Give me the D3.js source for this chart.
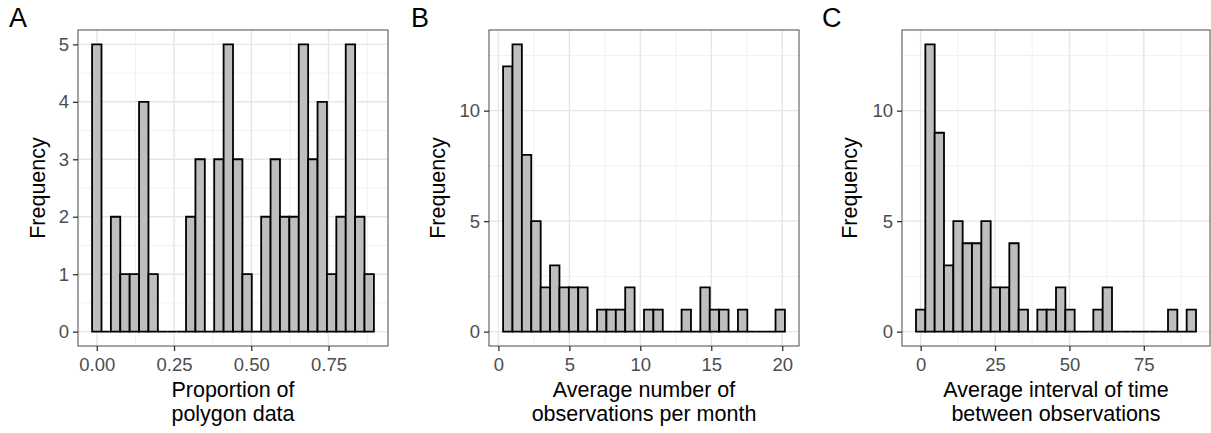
<!DOCTYPE html>
<html>
<head>
<meta charset="utf-8">
<script src="https://cdn.jsdelivr.net/npm/d3@7/dist/d3.min.js"></script>
<style>
  body { margin: 0; background: #fff; }
  svg { font-family: "Liberation Sans", Arial, sans-serif; }
</style>
</head>
<body>
<div id="chart"></div>
<script>
// histogram counts (30 bins per panel)
var countsA = [5, 0, 2, 1, 1, 4, 1, 0, 0, 0, 2, 3, 0, 3, 5, 3, 1, 0, 2, 3, 2, 2, 5, 3, 4, 1, 2, 5, 2, 1];
var countsB = [12, 13, 8, 5, 2, 3, 2, 2, 2, 0, 1, 1, 1, 2, 0, 1, 1, 0, 0, 1, 0, 2, 1, 1, 0, 1, 0, 0, 0, 1];
var countsC = [1, 13, 9, 3, 5, 4, 4, 5, 2, 2, 4, 1, 0, 1, 1, 2, 1, 0, 0, 1, 2, 0, 0, 0, 0, 0, 0, 1, 0, 1];

// bin width and centre of the first bin
var binWidthA = 0.0304, firstCenterA = 0;
var binWidthB = 0.662,  firstCenterB = 0.662;
var binWidthC = 3.137,  firstCenterC = 0;

var xTicksA = [0, 0.25, 0.5, 0.75], xMinorA = [0.125, 0.375, 0.625, 0.875];
var xTicksB = [0, 5, 10, 15, 20],   xMinorB = [2.5, 7.5, 12.5, 17.5];
var xTicksC = [0, 25, 50, 75],      xMinorC = [12.5, 37.5, 62.5, 87.5];
var yTicksA = [0, 1, 2, 3, 4, 5],   yMinorA = [0.5, 1.5, 2.5, 3.5, 4.5];
var yTicksB = [0, 5, 10],           yMinorB = [2.5, 7.5, 12.5];

var titleA = ["Proportion of", "polygon data"];
var titleB = ["Average number of", "observations per month"];
var titleC = ["Average interval of time", "between observations"];

var width = 1211, height = 433;
var plotTop = 30, plotBottom = 346;

var svg = d3.select("#chart").append("svg")
    .attr("width", width)
    .attr("height", height);

function drawPanel(cfg) {
    var n = cfg.counts.length;
    var w = cfg.binWidth;
    var lo = cfg.firstCenter - w / 2;
    var hi = cfg.firstCenter + (n - 0.5) * w;
    var padX = (hi - lo) * 0.05;
    var yMax = d3.max(cfg.counts);

    var x = d3.scaleLinear().domain([lo - padX, hi + padX]).range([cfg.left, cfg.right]);
    var y = d3.scaleLinear().domain([-yMax * 0.05, yMax * 1.05]).range([plotBottom, plotTop]);

    var g = svg.append("g");

    // grid
    g.selectAll(".vminor").data(cfg.xMinor).enter().append("line")
        .attr("x1", function (d) { return x(d); }).attr("x2", function (d) { return x(d); })
        .attr("y1", plotTop).attr("y2", plotBottom)
        .attr("stroke", "#ebebeb").attr("stroke-width", 0.7);
    g.selectAll(".hminor").data(cfg.yMinor).enter().append("line")
        .attr("y1", function (d) { return y(d); }).attr("y2", function (d) { return y(d); })
        .attr("x1", cfg.left).attr("x2", cfg.right)
        .attr("stroke", "#ebebeb").attr("stroke-width", 0.7);
    g.selectAll(".vmajor").data(cfg.xTicks).enter().append("line")
        .attr("x1", function (d) { return x(d); }).attr("x2", function (d) { return x(d); })
        .attr("y1", plotTop).attr("y2", plotBottom)
        .attr("stroke", "#e6e6e6").attr("stroke-width", 1.4);
    g.selectAll(".hmajor").data(cfg.yTicks).enter().append("line")
        .attr("y1", function (d) { return y(d); }).attr("y2", function (d) { return y(d); })
        .attr("x1", cfg.left).attr("x2", cfg.right)
        .attr("stroke", "#e6e6e6").attr("stroke-width", 1.4);

    // bars (paths so empty bins still show as a line on the baseline)
    g.selectAll(".bar").data(cfg.counts).enter().append("path")
        .attr("d", function (d, i) {
            var x0 = x(lo + i * w), x1 = x(lo + (i + 1) * w);
            var y0 = y(0), y1 = y(d);
            return "M" + x0 + "," + y0 + "V" + y1 + "H" + x1 + "V" + y0 + "Z";
        })
        .attr("fill", "#bebebe")
        .attr("stroke", "#000")
        .attr("stroke-width", 1.8)
        .attr("stroke-linejoin", "miter");

    // border
    g.append("rect")
        .attr("x", cfg.left).attr("y", plotTop)
        .attr("width", cfg.right - cfg.left).attr("height", plotBottom - plotTop)
        .attr("fill", "none").attr("stroke", "#5a5a5a").attr("stroke-width", 1.1);

    // axes
    var xAxis = g.append("g").attr("transform", "translate(0," + plotBottom + ")")
        .call(d3.axisBottom(x).tickValues(cfg.xTicks).tickFormat(cfg.xFormat).tickSize(5).tickPadding(7));
    var yAxis = g.append("g").attr("transform", "translate(" + cfg.left + ",0)")
        .call(d3.axisLeft(y).tickValues(cfg.yTicks).tickFormat(d3.format("d")).tickSize(5).tickPadding(4));
    [xAxis, yAxis].forEach(function (a) {
        a.select(".domain").remove();
        a.selectAll(".tick line").attr("stroke", "#333").attr("stroke-width", 1.3);
        a.selectAll(".tick text").attr("fill", "#4d4d4d").style("font-size", "18.5px")
            .style("font-family", "'Liberation Sans', Arial, sans-serif");
    });

    // x title
    var cx = (cfg.left + cfg.right) / 2;
    g.selectAll(".xtitle").data(cfg.title).enter().append("text")
        .attr("x", cx)
        .attr("y", function (d, i) { return 397 + i * 24; })
        .attr("text-anchor", "middle")
        .style("font-size", "21.5px")
        .attr("fill", "#000")
        .text(function (d) { return d; });

    // y title
    g.append("text")
        .attr("transform", "translate(" + (cfg.left - cfg.yTitleOffset) + "," + ((plotTop + plotBottom) / 2) + ") rotate(-90)")
        .attr("text-anchor", "middle")
        .style("font-size", "21.5px")
        .attr("fill", "#000")
        .text("Frequency");

    // panel letter
    g.append("text")
        .attr("x", cfg.tagX).attr("y", 27)
        .style("font-size", "27px")
        .attr("fill", "#000")
        .text(cfg.tag);
}

drawPanel({
    counts: countsA, binWidth: binWidthA, firstCenter: firstCenterA,
    xTicks: xTicksA, xMinor: xMinorA, yTicks: yTicksA, yMinor: yMinorA,
    xFormat: d3.format(".2f"), title: titleA, tag: "A", tagX: 9,
    left: 78, right: 388, yTitleOffset: 33
});
drawPanel({
    counts: countsB, binWidth: binWidthB, firstCenter: firstCenterB,
    xTicks: xTicksB, xMinor: xMinorB, yTicks: yTicksB, yMinor: yMinorB,
    xFormat: d3.format("d"), title: titleB, tag: "B", tagX: 411,
    left: 489, right: 799, yTitleOffset: 44
});
drawPanel({
    counts: countsC, binWidth: binWidthC, firstCenter: firstCenterC,
    xTicks: xTicksC, xMinor: xMinorC, yTicks: yTicksB, yMinor: yMinorB,
    xFormat: d3.format("d"), title: titleC, tag: "C", tagX: 822,
    left: 902, right: 1210, yTitleOffset: 45
});
</script>
</body>
</html>
